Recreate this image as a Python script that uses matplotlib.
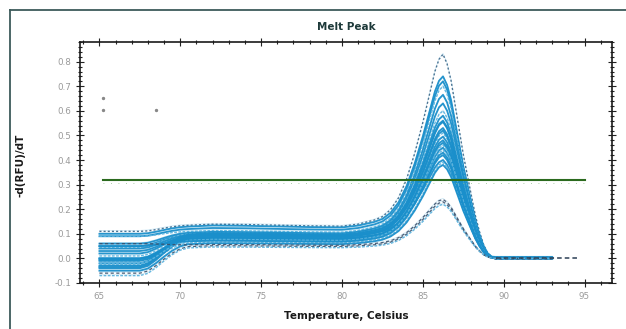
import numpy as np
import matplotlib
matplotlib.use("Agg")
import matplotlib.pyplot as plt
from matplotlib.lines import Line2D
from matplotlib.ticker import MultipleLocator

# ---------------- data ----------------
# temperature grid (Celsius)
temps = [65, 66, 67, 67.5, 68, 68.5, 69, 69.5, 70, 70.5, 72, 74, 76, 78, 80, 81, 82,
         82.5, 83, 83.5, 84, 84.5, 85, 85.25, 85.5, 85.75, 86, 86.25, 86.5, 86.75,
         87, 87.25, 87.5, 87.75, 88, 88.25, 88.5, 88.75, 89, 89.25, 89.5, 90, 91, 92, 93]
# weight of the low-temperature level (65-68 C) vs the plateau level
start_weight = [1, 1, 1, 1, 0.92, 0.72, 0.48, 0.26, 0.1, 0.02, 0, 0, 0, 0, 0, 0, 0,
                0, 0, 0, 0, 0, 0, 0, 0, 0, 0, 0, 0, 0,
                0, 0, 0, 0, 0, 0, 0, 0, 0, 0, 0, 0, 0, 0, 0]
# how much of the plateau level remains (fades under the peak)
plateau_keep = [1, 1, 1, 1, 1, 1, 1, 1, 1, 1, 1.03, 1.02, 1.0, 0.98, 0.97, 0.98, 1.0,
                1, 1, 1, 1, 1, 1, 1, 1, 1, 1, 1, 0.92, 0.82,
                0.7, 0.58, 0.46, 0.35, 0.25, 0.16, 0.09, 0.04, 0.015, 0, 0, 0, 0, 0, 0]
# normalised melt peak shape (excess above plateau)
peak_shape = [0, 0, 0, 0, 0, 0, 0, 0, 0, 0, 0, 0, 0, 0, 0, 0.01, 0.03,
              0.05, 0.09, 0.16, 0.27, 0.42, 0.60, 0.70, 0.80, 0.90, 0.97, 1.0, 0.96, 0.88,
              0.76, 0.64, 0.52, 0.42, 0.32, 0.22, 0.14, 0.075, 0.03, 0.01, 0, 0, 0, 0, 0]

# per-well values: level at 65-68 C, plateau level at 71-82 C, melt peak height
start_levels = [0.11, 0.10, 0.09, 0.09, 0.06, 0.05, 0.045, 0.04, 0.03, 0.02, 0.01, 0.0,
                0.0, -0.005, -0.01, -0.01, -0.02, -0.025, -0.03, -0.035, -0.04, -0.02,
                0.05, -0.05, 0.06, -0.06, -0.07]
plateau_levels = [0.135, 0.13, 0.12, 0.11, 0.105, 0.10, 0.10, 0.095, 0.09, 0.09, 0.085,
                  0.08, 0.08, 0.075, 0.07, 0.085, 0.095, 0.065, 0.10, 0.09, 0.08, 0.075,
                  0.07, 0.06, 0.055, 0.05, 0.045]
peak_heights = [0.83, 0.74, 0.72, 0.70, 0.665, 0.63, 0.60, 0.58, 0.555, 0.53, 0.51,
                0.495, 0.47, 0.45, 0.44, 0.42, 0.40, 0.39, 0.56, 0.52, 0.48, 0.46,
                0.43, 0.38, 0.24, 0.23, 0.22]
end_levels = [0.005, 0.004, 0.003, 0.002, 0.004, 0.002, 0.001, 0.0, 0.003, 0.001, 0.0,
              0.002, 0.0, 0.001, -0.001, 0.0, 0.002, 0.0, 0.001, 0.003, 0.0, -0.001,
              0.0, 0.001, 0.0, -0.002, 0.0]
line_kind = ["dark", "main", "main", "light", "main", "main", "light", "main", "main",
             "main", "light", "main", "main", "main", "light", "main", "main", "light",
             "main", "main", "main", "light", "main", "main", "dash", "dash", "light"]

# dark dashed trace extending to the end of the run
tail_temps = [89.5, 90, 91, 92, 93, 94, 94.75]
tail_values = [0.0, 0.0, 0.0, 0.0, 0.0, 0.0, 0.0]

threshold = 0.32
threshold_span = [65.2, 95.0]

stray_t = [65.2, 65.2, 68.5]
stray_v = [0.653, 0.604, 0.604]

# ---------------- figure ----------------
W, H = 626, 329
fig = plt.figure(figsize=(W / 100, H / 100), dpi=100)
fig.patch.set_facecolor("white")

# outer frame lines
fig.add_artist(Line2D([10 / W, 1.0], [1 - 10 / H, 1 - 10 / H], color="#3d5b5b", lw=1.3))
fig.add_artist(Line2D([10 / W, 10 / W], [1 - 10 / H, 0.0], color="#3d5b5b", lw=1.3))

ax = fig.add_axes([80 / W, 1 - 283 / H, (612 - 80) / W, (283 - 42) / H])

T = np.array(temps)
sw = np.array(start_weight)
pk = np.array(plateau_keep)
ps = np.array(peak_shape)

styles = {
    "main": dict(color="#1a8fcb", lw=1.3, ls="-", alpha=0.95),
    "light": dict(color="#5fb5df", lw=1.0, ls=(0, (2, 1)), alpha=0.95),
    "dark": dict(color="#3a6688", lw=1.0, ls=(0, (1.5, 1.5)), alpha=0.9),
    "dash": dict(color="#3a4f6a", lw=0.9, ls=(0, (2.5, 2)), alpha=0.9),
}

for s, p, h, e, k in zip(start_levels, plateau_levels, peak_heights, end_levels, line_kind):
    base = s * sw + p * (1 - sw) * pk
    y = base + (h - p) * ps
    y = np.where(T >= 89.5, e, y)
    ax.plot(T, y, **styles[k], zorder=3)
    # companion lighter trace for the striped look
    ax.plot(T, y + 0.004, color="#a6d6ee", lw=0.5, alpha=0.6, zorder=2)

ax.plot(tail_temps, tail_values, color="#2b3f55", lw=1.1, ls=(0, (3, 2)), zorder=4)

ax.plot(threshold_span, [threshold, threshold], color="#2b6a1e", lw=1.5, zorder=5)
ax.plot(threshold_span, [threshold - 0.012, threshold - 0.012], color="#8fbf8a",
        lw=0.6, ls=(0, (1, 8)), zorder=5)

ax.scatter(stray_t, stray_v, s=2, color="#888888", zorder=4)

ax.set_xlim(63.8, 96.7)
ax.set_ylim(-0.1, 0.88)

ax.xaxis.set_major_locator(MultipleLocator(5))
ax.xaxis.set_minor_locator(MultipleLocator(1))
ax.yaxis.set_major_locator(MultipleLocator(0.1))
ax.yaxis.set_minor_locator(MultipleLocator(0.02))
ax.tick_params(which="both", direction="inout", top=True, right=True,
               colors="#222222", labelcolor="#9a9a9a", labelsize=6.3, width=0.8)
ax.tick_params(which="major", length=6)
ax.tick_params(which="minor", length=3.5)
ax.tick_params(axis="x", which="both", top=True)
ax.set_yticks([-0.1, 0.0, 0.1, 0.2, 0.3, 0.4, 0.5, 0.6, 0.7, 0.8])
ax.set_yticklabels(["-0.1", "0.0", "0.1", "0.2", "0.3", "0.4", "0.5", "0.6", "0.7", "0.8"])
ax.set_xticks([65, 70, 75, 80, 85, 90, 95])

for sp in ax.spines.values():
    sp.set_linewidth(1.2)
    sp.set_color("#1a1a1a")

fig.text(346 / W, 1 - 27 / H, "Melt Peak", ha="center", va="center",
         fontsize=7.5, fontweight="bold", color="#1e3a3a")
fig.text(346 / W, 1 - 316 / H, "Temperature, Celsius", ha="center", va="center",
         fontsize=7.5, fontweight="bold", color="#1a1a1a")
fig.text(21 / W, 1 - 165 / H, "-d(RFU)/dT", ha="center", va="center", rotation=90,
         fontsize=7.5, fontweight="bold", color="#1a1a1a")

fig.savefig("out.png", dpi=100)
